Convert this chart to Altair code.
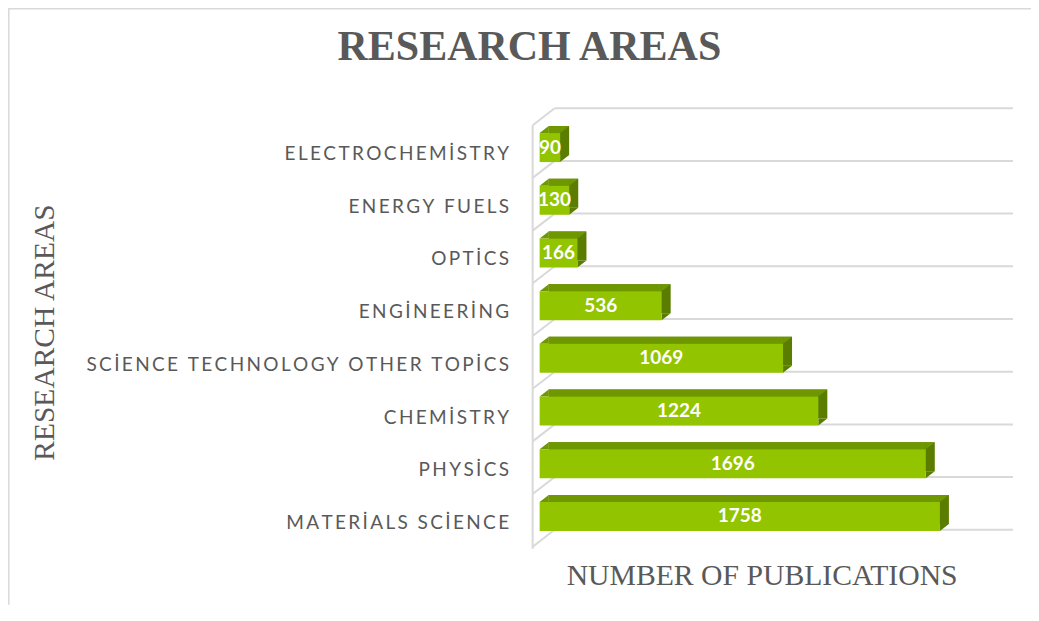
import altair as alt
import pandas as pd

# ---- data ----
categories = [
    "ELECTROCHEMİSTRY",
    "ENERGY FUELS",
    "OPTİCS",
    "ENGİNEERİNG",
    "SCİENCE TECHNOLOGY OTHER TOPİCS",
    "CHEMİSTRY",
    "PHYSİCS",
    "MATERİALS SCİENCE ",
]
values = [90, 130, 166, 536, 1069, 1224, 1696, 1758]
x_domain = [0, 2000]

# ---- styles ----
FRONT = "#93c400"
TOP = "#6e9700"
SIDE = "#5a7d00"
GRID = "#d9d9d9"
TEXT = "#595959"
LABEL_FONT = "Lato"
SERIF = "Liberation Serif"

STEP = 52.7
BAR = 29
DX, DY = 9, 7
W = 455.4
H = STEP * len(categories)
PAD_L, PAD_T, PAD_R, PAD_B = 531.7, 113.2, 36, 62
BACK_DX, BACK_DY = 15, -13
WALL_DX, WALL_DY = -7, 17

bars = pd.DataFrame({"category": categories, "value": values, "zero": [0] * len(values)})
bars["gmax"] = x_domain[1]
wall = pd.DataFrame({"c1": [categories[0]], "c2": [categories[-1]], "zero": [0]})

spacer = "\u2009"
nbsp = "\u00a0"
x_scale = alt.Scale(domain=x_domain, nice=False, zero=True)
y_scale = alt.Scale(domain=categories, paddingInner=0, paddingOuter=0)

y_axis = alt.Axis(
    title="RESEARCH AREAS", domain=False, ticks=False, grid=False,
    labelFont=LABEL_FONT, labelFontSize=19, labelColor=TEXT, labelPadding=31,
    labelOffset=6.5, labelLimit=0,
    labelExpr=f"join(split(join(split(datum.label, ' '), '{nbsp}'), ''), '{spacer}')",
    titleFont=SERIF, titleFontSize=29.5, titleFontWeight="normal", titleColor=TEXT,
    titleX=-495, titleY=H / 2, titleAngle=270, titleBaseline="middle", titleAlign="center",
)
x_axis = alt.Axis(
    title="NUMBER OF PUBLICATIONS", labels=False, ticks=False, domain=False, grid=False,
    titleFont=SERIF, titleFontSize=29.7, titleFontWeight="normal", titleColor=TEXT,
    titleX=222, titleY=42, titleBaseline="alphabetic", titleAlign="center",
)


def X(field):
    return alt.X(field, scale=x_scale, axis=x_axis)


def Y(field="category:N"):
    return alt.Y(field, scale=y_scale, axis=y_axis, sort=categories)


base = alt.Chart(bars)
last = alt.Chart(bars.tail(1))

grid_top = base.mark_rule(color=GRID, strokeWidth=2, xOffset=BACK_DX, x2Offset=BACK_DX + 3,
                          yOffset=-STEP / 2 + BACK_DY).encode(x=X("zero:Q"), x2="gmax:Q", y=Y())
grid_bottom = last.mark_rule(
    color=GRID, strokeWidth=2, xOffset=BACK_DX, x2Offset=BACK_DX + 3,
    yOffset=STEP / 2 + BACK_DY).encode(x=X("zero:Q"), x2="gmax:Q", y=Y())

diag_top = base.mark_rule(color=GRID, strokeWidth=2, xOffset=BACK_DX, x2Offset=WALL_DX,
                          yOffset=-STEP / 2 + BACK_DY, y2Offset=-STEP / 2 + BACK_DY + WALL_DY).encode(
    x=X("zero:Q"), x2="zero:Q", y=Y(), y2="category:N")
diag_bottom = last.mark_rule(
    color=GRID, strokeWidth=2, xOffset=BACK_DX, x2Offset=WALL_DX,
    yOffset=STEP / 2 + BACK_DY, y2Offset=STEP / 2 + BACK_DY + WALL_DY).encode(
    x=X("zero:Q"), x2="zero:Q", y=Y(), y2="category:N")
wall_line = alt.Chart(wall).mark_rule(
    color=GRID, strokeWidth=2, xOffset=WALL_DX,
    yOffset=-STEP / 2 + BACK_DY + WALL_DY, y2Offset=STEP / 2 + BACK_DY + WALL_DY + 2).encode(
    x=X("zero:Q"), y=Y("c1:N"), y2="c2:N")

side = base.mark_bar(color=SIDE, size=BAR, xOffset=DX, x2Offset=DX, yOffset=-DY).encode(
    x=X("zero:Q"), x2="value:Q", y=Y())
top = base.mark_bar(color=TOP, size=DY, xOffset=DX, x2Offset=0, yOffset=-BAR / 2 - DY / 2).encode(
    x=X("zero:Q"), x2="value:Q", y=Y())
r = DY / DX
tri_tl = base.mark_point(shape=f"M -1 {r} L 1 {-r} L 1 {r} Z", size=DX * DX, filled=True, opacity=1,
                         strokeWidth=0, color=TOP, xOffset=DX / 2, yOffset=-BAR / 2 - DY / 2).encode(
    x=X("zero:Q"), y=Y())
tri_tr = base.mark_point(shape=f"M -1 {r} L 1 {-r} L -1 {-r} Z", size=DX * DX, filled=True, opacity=1,
                         strokeWidth=0, color=TOP, xOffset=DX / 2, yOffset=-BAR / 2 - DY / 2).encode(
    x=X("value:Q"), y=Y())
tri_br = base.mark_point(shape=f"M -1 {r} L 1 {-r} L -1 {-r} Z", size=DX * DX, filled=True, opacity=1,
                         strokeWidth=0, color=SIDE, xOffset=DX / 2, yOffset=BAR / 2 - DY / 2).encode(
    x=X("value:Q"), y=Y())
front = base.mark_bar(color=FRONT, size=BAR).encode(x=X("zero:Q"), x2="value:Q", y=Y())
labels = base.transform_calculate(mid="datum.value / 2").mark_text(
    color="white", font=LABEL_FONT, fontWeight="bold", fontSize=19, baseline="middle", align="center"
).encode(x=X("mid:Q"), y=Y(), text="value:Q")

border_left = alt.Chart(wall).mark_rule(color=GRID, strokeWidth=1.5).encode(
    x=alt.value(-PAD_L + 0.8), y=alt.value(-PAD_T), y2=alt.value(H + PAD_B))
border_top = alt.Chart(wall).mark_rule(color=GRID, strokeWidth=1.5).encode(
    x=alt.value(-PAD_L), x2=alt.value(W + PAD_R), y=alt.value(-PAD_T + 0.8))

chart = alt.layer(
    grid_top, grid_bottom, diag_top, diag_bottom, wall_line,
    side, top, tri_tl, tri_tr, tri_br, front, labels, border_left, border_top,
).properties(
    width=W, height=H,
    padding={"left": PAD_L, "top": PAD_T, "right": PAD_R, "bottom": PAD_B},
    autosize="none",
    title=alt.TitleParams("RESEARCH AREAS", font=SERIF, fontSize=42, fontWeight="bold", color=TEXT,
                          anchor="middle", frame="group", dx=-238, offset=-62),
).configure_view(stroke=None)

chart.save("out.html", embed_options={"renderer": "svg", "actions": False})
